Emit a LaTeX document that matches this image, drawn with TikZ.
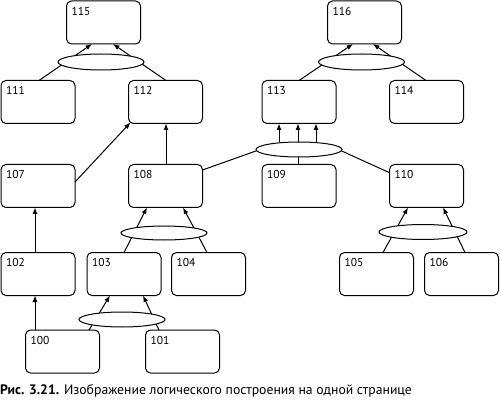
\documentclass[tikz,border=0pt]{standalone}
\usepackage{fontspec}
\setmainfont{PT Sans}
\usetikzlibrary{arrows.meta,shapes.geometric,calc}
\tikzset{
  box/.style={draw, line width=1pt, rounded corners=5pt, minimum width=74pt, minimum height=43pt, inner sep=0pt, outer sep=0pt},
  num/.style={anchor=north west, inner sep=0pt, font=\fontsize{11.5}{13}\selectfont},
  oval/.style={draw, fill=white, ellipse, line width=1pt, inner sep=0pt, outer sep=0pt},
  con/.style={line width=1pt},
  arr/.style={line width=1pt, -{Latex[length=6.5pt,width=5pt]}},
}
\newcommand{\bx}[3]{\node[box] (b#1) at (#2,#3) {};
  \node[num] (l#1) at ($(b#1.north west)+(5,6)$) {#1};}
\begin{document}
\begin{tikzpicture}[x=1pt,y=-1pt]
\useasboundingbox (0,0) rectangle (500,403);
% boxes
\bx{115}{103.5}{22.5}
\bx{116}{364.5}{22.5}
\bx{111}{38}{102}
\bx{112}{165.5}{102}
\bx{113}{299}{102}
\bx{114}{426.5}{102}
\bx{107}{38}{186}
\bx{108}{165.5}{186}
\bx{109}{299}{186}
\bx{110}{426.5}{186}
\bx{102}{38}{274}
\bx{103}{124}{274}
\bx{104}{208.5}{274}
\bx{105}{376.5}{274}
\bx{106}{461.5}{274}
\bx{100}{62.5}{351.5}
\bx{101}{182.5}{351.5}
% connectors
\draw[arr] ([xshift=1pt]b111.north) -- ([xshift=-11.5pt]b115.south);
\draw[arr] ([xshift=0.5pt]b112.north) -- ([xshift=9.5pt]b115.south);
\draw[arr] (b113.north) -- ([xshift=-11.5pt]b116.south);
\draw[arr] ([xshift=-0.5pt]b114.north) -- ([xshift=8.5pt]b116.south);
\draw[arr] ([yshift=4pt]b107.east) -- ([xshift=2pt,yshift=1pt]b112.south west);
\draw[arr] ([xshift=0.5pt]b108.north) -- ([xshift=0.5pt]b112.south);
\draw[arr] ([xshift=-3pt]b102.north) -- ([xshift=-3pt]b107.south);
\draw[arr] ([xshift=-27.5pt]b100.north) -- ([xshift=-3pt]b102.south);
\draw[arr] (b103.north) -- ([xshift=-18.5pt]b108.south);
\draw[arr] ([xshift=-1.5pt]b104.north) -- ([xshift=17.5pt]b108.south);
\draw[arr] ([xshift=6.5pt]b105.north) -- ([xshift=-18.5pt]b110.south);
\draw[arr] ([xshift=3.5pt]b106.north) -- ([xshift=16.5pt]b110.south);
\draw[arr] ([xshift=26.5pt]b100.north) -- ([xshift=-14pt]b103.south);
\draw[arr] ([xshift=-23.5pt]b101.north) -- ([xshift=19pt]b103.south);
% ellipses
\node[oval, minimum width=86pt, minimum height=16pt] (e115) at (101,62) {};
\node[oval, minimum width=86pt, minimum height=16pt] (e116) at (361.5,62) {};
\node[oval, minimum width=86pt, minimum height=15pt] (e113) at (299,149.5) {};
\node[oval, minimum width=86pt, minimum height=14pt] (e108) at (164,233) {};
\node[oval, minimum width=88pt, minimum height=15pt] (e110) at (423,232) {};
\node[oval, minimum width=86pt, minimum height=15pt] (e103) at (122,319.5) {};
% connectors on the ellipse of 113
\draw[arr] ([xshift=-20pt]e113.north) -- ([xshift=-20pt]b113.south);
\draw[arr] ([xshift=-1pt]e113.north) -- ([xshift=-1pt]b113.south);
\draw[arr] ([xshift=17pt]e113.north) -- ([xshift=17pt]b113.south);
\draw[con] ([xshift=-1pt]b109.north) -- ([xshift=-1pt]e113.south);
\draw[con] ([yshift=16pt]b108.east) -- ($(e113.west)+(0.4,1.3)$);
\draw[con] ($(e113.east)+(-0.3,1.5)$) -- ([yshift=13.3pt]b110.west);
% caption
\node[anchor=base west, inner sep=0pt, font=\fontsize{13.7}{16}\selectfont] (cap) at (0,394) {\textbf{Рис. 3.21.} Изображение логического построения на одной странице};
\end{tikzpicture}
\end{document}
